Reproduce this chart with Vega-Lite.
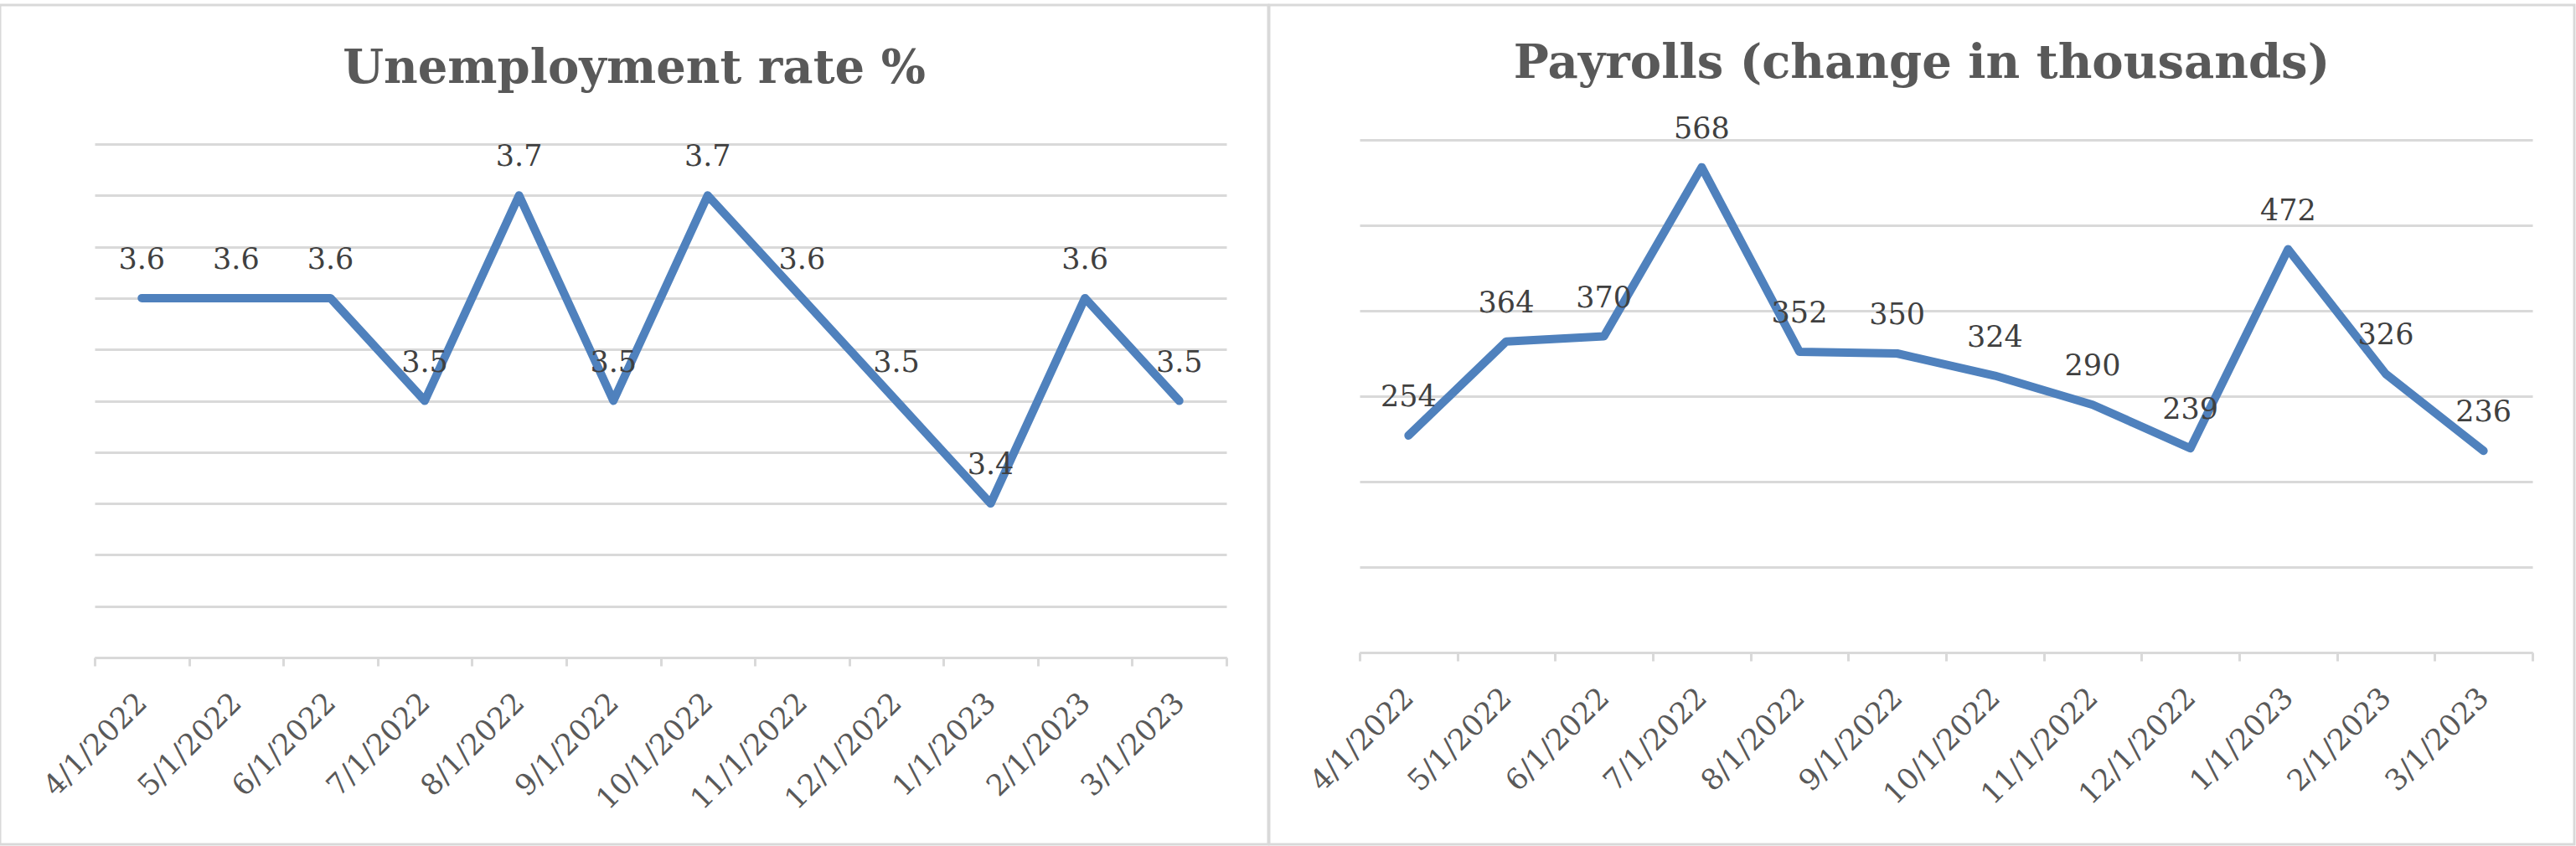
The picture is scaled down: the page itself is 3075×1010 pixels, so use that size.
{
  "$schema": "https://vega.github.io/schema/vega-lite/v6.json",
  "padding": {"left": -14, "top": 4, "right": 0, "bottom": 0},
  "background": "white",
  "spacing": 1,
  "bounds": "flush",
  "config": {
    "view": {"stroke": "#D9D9D9", "strokeWidth": 3},
    "font": "DejaVu Serif"
  },
  "hconcat": [
    {
      "width": 1514,
      "height": 1002,
      "title": {"text": "Unemployment rate %", "fontSize": 56, "font": "DejaVu Serif", "fontWeight": "bold", "color": "#595959", "anchor": "middle", "frame": "group", "baseline": "alphabetic", "offset": -149},
      "data": {"values": [
        {"month": "4/1/2022", "rate": 3.6},
        {"month": "5/1/2022", "rate": 3.6},
        {"month": "6/1/2022", "rate": 3.6},
        {"month": "7/1/2022", "rate": 3.5},
        {"month": "8/1/2022", "rate": 3.7},
        {"month": "9/1/2022", "rate": 3.5},
        {"month": "10/1/2022", "rate": 3.7},
        {"month": "11/1/2022", "rate": 3.6},
        {"month": "12/1/2022", "rate": 3.5},
        {"month": "1/1/2023", "rate": 3.4},
        {"month": "2/1/2023", "rate": 3.6},
        {"month": "3/1/2023", "rate": 3.5}
      ]},
      "encoding": {
        "x": {"field": "month", "type": "nominal", "sort": null,
          "scale": {"type": "band", "range": [113, 1464], "paddingInner": 0, "paddingOuter": 0},
          "axis": {"title": null, "labelAngle": -45, "labelAlign": "right", "labelBaseline": "middle", "labelFontSize": 35, "labelColor": "#595959", "labelFont": "DejaVu Serif", "labelPadding": 38, "labelLimit": 500, "labelOverlap": false, "tickBand": "extent", "ticks": true, "tickSize": 10, "tickColor": "#D9D9D9", "tickWidth": 3, "domainColor": "#D9D9D9", "domainWidth": 3, "grid": false, "offset": -223}},
        "y": {"field": "rate", "type": "quantitative",
          "scale": {"domain": [3.25, 3.75], "range": [779, 166], "zero": false, "nice": false},
          "axis": {"title": null, "labels": false, "ticks": false, "domain": false, "grid": true, "gridColor": "#D9D9D9", "gridWidth": 3, "values": [3.25, 3.3, 3.35, 3.4, 3.45, 3.5, 3.55, 3.6, 3.65, 3.7, 3.75]}}
      },
      "layer": [
        {"mark": {"type": "line", "color": "#4F81BD", "strokeWidth": 10, "strokeCap": "round", "strokeJoin": "round"}},
        {"mark": {"type": "text", "dy": -35, "fontSize": 35, "color": "#404040", "align": "center", "baseline": "alphabetic"},
         "encoding": {"text": {"field": "rate", "type": "quantitative", "format": ".1f"}}}
      ]
    },
    {
      "width": 1558,
      "height": 1002,
      "title": {"text": "Payrolls (change in thousands)", "fontSize": 56, "font": "DejaVu Serif", "fontWeight": "bold", "color": "#595959", "anchor": "middle", "frame": "group", "baseline": "alphabetic", "offset": -143},
      "data": {"values": [
        {"month": "4/1/2022", "payrolls": 254},
        {"month": "5/1/2022", "payrolls": 364},
        {"month": "6/1/2022", "payrolls": 370},
        {"month": "7/1/2022", "payrolls": 568},
        {"month": "8/1/2022", "payrolls": 352},
        {"month": "9/1/2022", "payrolls": 350},
        {"month": "10/1/2022", "payrolls": 324},
        {"month": "11/1/2022", "payrolls": 290},
        {"month": "12/1/2022", "payrolls": 239},
        {"month": "1/1/2023", "payrolls": 472},
        {"month": "2/1/2023", "payrolls": 326},
        {"month": "3/1/2023", "payrolls": 236}
      ]},
      "encoding": {
        "x": {"field": "month", "type": "nominal", "sort": null,
          "scale": {"type": "band", "range": [108, 1508], "paddingInner": 0, "paddingOuter": 0},
          "axis": {"title": null, "labelAngle": -45, "labelAlign": "right", "labelBaseline": "middle", "labelFontSize": 35, "labelColor": "#595959", "labelFont": "DejaVu Serif", "labelPadding": 38, "labelLimit": 500, "labelOverlap": false, "tickBand": "extent", "ticks": true, "tickSize": 10, "tickColor": "#D9D9D9", "tickWidth": 3, "domainColor": "#D9D9D9", "domainWidth": 3, "grid": false, "offset": -229}},
        "y": {"field": "payrolls", "type": "quantitative",
          "scale": {"domain": [0, 600], "range": [773, 161], "nice": false},
          "axis": {"title": null, "labels": false, "ticks": false, "domain": false, "grid": true, "gridColor": "#D9D9D9", "gridWidth": 3, "values": [0, 100, 200, 300, 400, 500, 600]}}
      },
      "layer": [
        {"mark": {"type": "line", "color": "#4F81BD", "strokeWidth": 10, "strokeCap": "round", "strokeJoin": "round"}},
        {"mark": {"type": "text", "dy": -35, "fontSize": 35, "color": "#404040", "align": "center", "baseline": "alphabetic"},
         "encoding": {"text": {"field": "payrolls", "type": "quantitative", "format": "d"}}}
      ]
    }
  ]
}
